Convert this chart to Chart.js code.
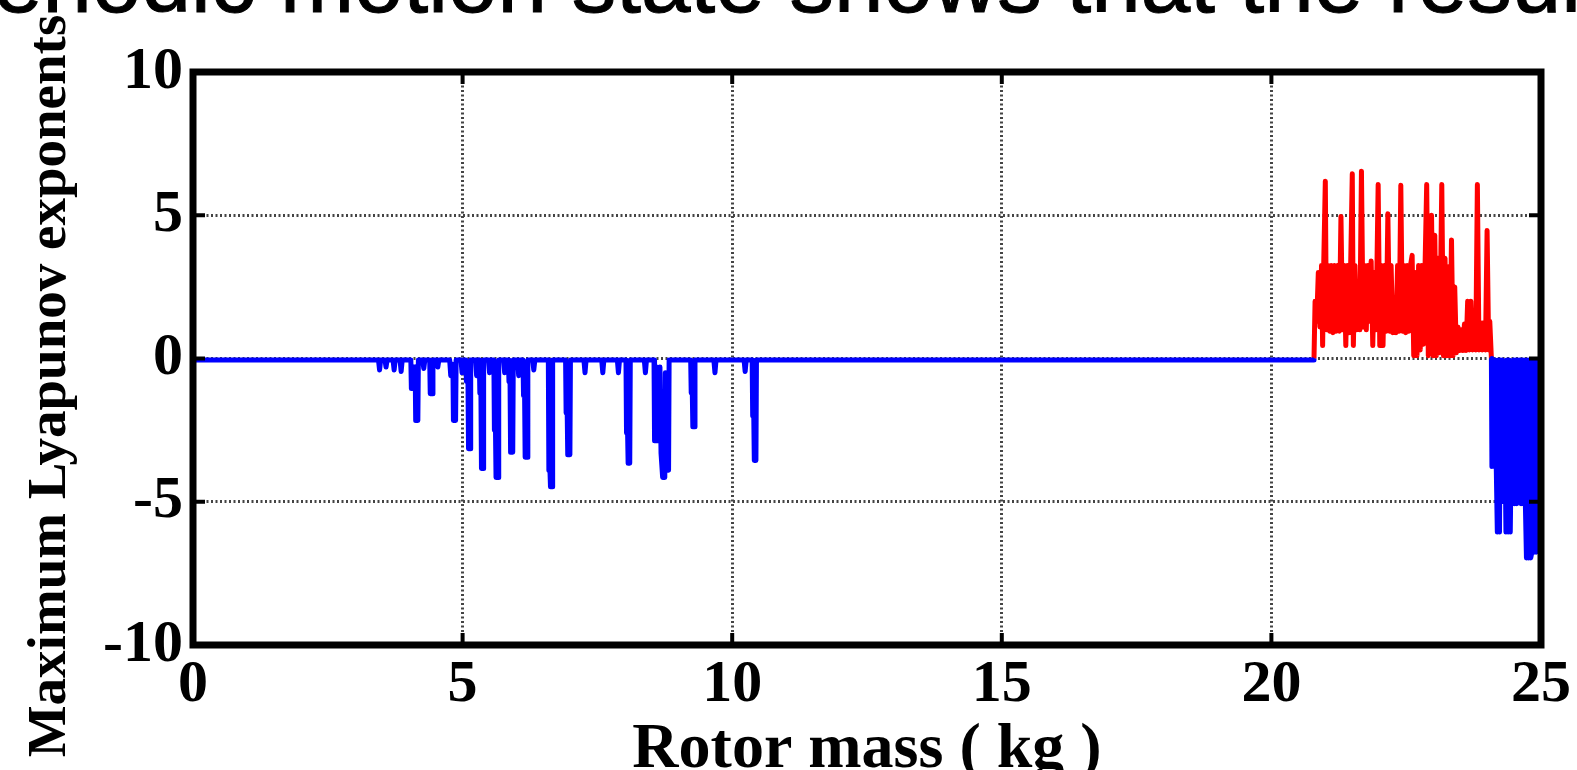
<!DOCTYPE html>
<html>
<head>
<meta charset="utf-8">
<title>Maximum Lyapunov exponents</title>
<script src="https://cdn.jsdelivr.net/npm/chart.js@4.4.0/dist/chart.umd.min.js"></script>
<style>
    html, body {
        margin: 0;
        padding: 0;
        background: #fff;
        overflow: hidden;
    }
    #stage {
        position: relative;
        width: 1577px;
        height: 770px;
    }
    #slideText {
        position: absolute;
        left: -7px;
        top: -63px;
        font-family: 'Liberation Sans', Arial, sans-serif;
        font-size: 89px;
        line-height: 89px;
        white-space: nowrap;
        color: #000;
        -webkit-text-stroke: 1px #000;
    }
    #lyapunovChart {
        position: absolute;
        left: 0;
        top: 0;
    }
</style>
</head>
<body>
<div id="stage">
    <canvas id="lyapunovChart" width="1577" height="770"></canvas>
    <div id="slideText">eriodic motion state shows that the resul</div>
</div>
<script>
// axis ticks
const massTicks = [0, 5, 10, 15, 20, 25];
const lyapTicks = [-10, -5, 0, 5, 10];

// blue branch, 0 .. 20.8 kg
const stableMass = [
    0.00, 3.44, 3.46, 3.48, 3.56, 3.58, 3.60, 3.71, 3.73, 3.75,
    3.84, 3.86, 3.88, 4.04, 4.05, 4.08, 4.09, 4.12, 4.13, 4.17,
    4.18, 4.26, 4.28, 4.30, 4.39, 4.40, 4.44, 4.45, 4.52, 4.54,
    4.56, 4.76, 4.78, 4.80, 4.82, 4.83, 4.87, 4.88, 4.97, 4.99,
    5.01, 5.06, 5.07, 5.10, 5.11, 5.14, 5.15, 5.24, 5.26, 5.28,
    5.31, 5.32, 5.34, 5.35, 5.38, 5.39, 5.48, 5.50, 5.52, 5.58,
    5.59, 5.61, 5.62, 5.66, 5.67, 5.76, 5.78, 5.80, 5.85, 5.86,
    5.88, 5.89, 5.93, 5.94, 6.02, 6.04, 6.06, 6.12, 6.13, 6.15,
    6.16, 6.20, 6.21, 6.30, 6.32, 6.34, 6.59, 6.60, 6.62, 6.63,
    6.66, 6.67, 6.91, 6.92, 6.94, 6.95, 6.99, 7.00, 7.25, 7.27,
    7.29, 7.58, 7.60, 7.62, 7.87, 7.89, 7.91, 8.03, 8.04, 8.06,
    8.07, 8.10, 8.11, 8.37, 8.39, 8.41, 8.55, 8.56, 8.59, 8.60,
    8.62, 8.65, 8.66, 8.68, 8.71, 8.75, 8.76, 8.78, 8.82, 8.83,
    9.23, 9.24, 9.26, 9.27, 9.30, 9.31, 9.66, 9.68, 9.70, 10.22,
    10.24, 10.26, 10.37, 10.38, 10.40, 10.41, 10.44, 10.45, 20.78, 20.79
];
const stableLyap = [
    -0.05, -0.05, -0.40, -0.05, -0.05, -0.30, -0.05, -0.05, -0.40, -0.05,
    -0.05, -0.45, -0.05, -0.05, -1.05, -1.05, -0.30, -0.30, -2.16, -2.16,
    -0.05, -0.05, -0.35, -0.05, -0.05, -1.23, -1.23, -0.05, -0.05, -0.30,
    -0.05, -0.05, -0.60, -0.20, -0.20, -2.16, -2.16, -0.05, -0.05, -0.50,
    -0.05, -0.05, -0.80, -0.80, -3.15, -3.15, -0.05, -0.05, -0.60, -0.05,
    -0.05, -1.20, -1.20, -3.84, -3.84, -0.05, -0.05, -0.50, -0.05, -0.05,
    -2.50, -2.50, -4.15, -4.15, -0.05, -0.05, -0.50, -0.05, -0.05, -0.80,
    -0.80, -3.27, -3.27, -0.05, -0.05, -0.60, -0.05, -0.05, -1.30, -1.30,
    -3.45, -3.45, -0.05, -0.05, -0.40, -0.05, -0.05, -3.90, -3.90, -4.48,
    -4.48, -0.05, -0.05, -1.90, -1.90, -3.36, -3.36, -0.05, -0.05, -0.50,
    -0.05, -0.05, -0.50, -0.05, -0.05, -0.50, -0.05, -0.05, -2.60, -2.60,
    -3.66, -3.66, -0.05, -0.05, -0.50, -0.05, -0.05, -2.87, -2.87, -0.30,
    -2.87, -2.87, -0.30, -3.30, -4.15, -4.15, -0.50, -3.90, -3.90, -0.05,
    -0.05, -1.20, -1.20, -2.38, -2.38, -0.05, -0.05, -0.50, -0.05, -0.05,
    -0.45, -0.05, -0.05, -2.00, -2.00, -3.56, -3.56, -0.05, -0.05, 0.00
];

// red branch (positive exponents), 20.8 .. 24.1 kg
const chaosMass = [
    20.79, 20.81, 20.84, 20.87, 20.90, 20.93, 20.95, 20.97, 21.00, 21.02,
    21.05, 21.08, 21.11, 21.14, 21.17, 21.20, 21.23, 21.26, 21.29, 21.32,
    21.35, 21.38, 21.41, 21.44, 21.47, 21.50, 21.52, 21.55, 21.58, 21.61,
    21.64, 21.67, 21.70, 21.73, 21.76, 21.79, 21.82, 21.85, 21.88, 21.91,
    21.94, 21.98, 22.01, 22.04, 22.07, 22.10, 22.13, 22.16, 22.19, 22.22,
    22.25, 22.28, 22.31, 22.34, 22.37, 22.40, 22.43, 22.46, 22.49, 22.52,
    22.55, 22.58, 22.61, 22.64, 22.67, 22.70, 22.73, 22.76, 22.79, 22.82,
    22.85, 22.88, 22.91, 22.94, 22.97, 23.00, 23.03, 23.06, 23.09, 23.12,
    23.16, 23.19, 23.22, 23.25, 23.28, 23.31, 23.34, 23.37, 23.40, 23.43,
    23.46, 23.49, 23.52, 23.55, 23.58, 23.61, 23.64, 23.67, 23.70, 23.73,
    23.76, 23.79, 23.82, 23.85, 23.88, 23.91, 23.94, 23.97, 24.00, 24.03,
    24.05, 24.08
];
const chaosLyap = [
    0.00, 2.00, 1.30, 3.00, 1.10, 3.25, 0.45, 3.25, 6.19, 1.00,
    3.25, 0.95, 3.25, 0.90, 3.25, 0.95, 3.25, 0.95, 4.96, 1.00,
    3.25, 0.45, 3.25, 0.90, 3.25, 6.45, 0.45, 3.25, 1.00, 2.10,
    1.00, 6.54, 1.10, 3.25, 1.00, 3.25, 1.30, 3.40, 0.45, 3.00,
    1.00, 6.07, 0.45, 3.25, 0.45, 3.25, 0.95, 5.05, 0.95, 3.25,
    0.90, 2.10, 0.90, 3.25, 0.95, 6.05, 0.95, 3.25, 0.90, 3.25,
    0.95, 3.25, 3.60, 0.10, 3.00, 0.10, 3.25, 0.30, 3.25, 0.50,
    3.25, 6.07, 0.10, 3.25, 5.00, 0.10, 4.30, 0.10, 3.50, 0.20,
    6.07, 0.10, 3.50, 0.10, 3.20, 0.10, 4.14, 0.10, 2.50, 0.20,
    1.10, 0.28, 1.00, 0.28, 1.20, 0.28, 2.00, 0.30, 2.00, 0.30,
    1.25, 0.30, 6.07, 0.30, 1.25, 0.30, 1.25, 0.30, 4.47, 0.30,
    1.30, 0.00
];

// blue tail, 24.1 .. 25 kg
const tailMass = [
    24.08, 24.09, 24.11, 24.13, 24.15, 24.17, 24.19, 24.21, 24.23, 24.25,
    24.27, 24.29, 24.31, 24.33, 24.35, 24.37, 24.39, 24.41, 24.43, 24.45,
    24.47, 24.49, 24.51, 24.53, 24.55, 24.57, 24.59, 24.61, 24.63, 24.65,
    24.67, 24.69, 24.71, 24.73, 24.75, 24.77, 24.79, 24.81, 24.83, 24.85,
    24.87, 24.89, 24.91, 24.93, 24.95, 24.97, 25.00
];
const tailLyap = [
    0.00, -3.77, -0.05, -3.77, -0.05, -3.77, -6.06, -0.05, -6.06, -0.05,
    -5.00, -0.05, -5.00, -2.60, -6.06, -0.05, -6.06, -0.05, -6.06, -3.10,
    -5.07, -0.05, -5.07, -0.05, -5.07, -0.05, -4.03, -0.05, -5.07, -0.05,
    -5.07, -0.05, -5.07, -6.96, -0.05, -6.96, -0.05, -6.96, -6.76, -0.05,
    -6.76, -0.05, -6.76, -6.12, -0.05, -6.12, -0.05
];

const SERIF = "'Liberation Serif', 'Times New Roman', serif";

// MATLAB style box with inward tick marks
const axesBox = {
    id: 'axesBox',
    afterDatasetsDraw(chart) {
        const { ctx, chartArea: a, scales: { x, y } } = chart;
        const len = 12;
        ctx.save();
        ctx.strokeStyle = '#000';
        ctx.lineWidth = 4;
        ctx.beginPath();
        massTicks.forEach(v => {
            const px = x.getPixelForValue(v);
            ctx.moveTo(px, a.bottom);
            ctx.lineTo(px, a.bottom - len);
            ctx.moveTo(px, a.top);
            ctx.lineTo(px, a.top + len);
        });
        lyapTicks.forEach(v => {
            const py = y.getPixelForValue(v);
            ctx.moveTo(a.left, py);
            ctx.lineTo(a.left + len, py);
            ctx.moveTo(a.right, py);
            ctx.lineTo(a.right - len, py);
        });
        ctx.stroke();
        ctx.lineWidth = 7;
        ctx.strokeRect(a.left, a.top, a.right - a.left, a.bottom - a.top);
        ctx.restore();
    }
};

class LyapunovChartView {

    #canvas;
    #chart;

    constructor(canvas) {
        this.#canvas = canvas;
    }

    displayChart() {
        if (this.#chart != null) {
            this.#chart.destroy();
        }
        this.#chart = new Chart(
            this.#canvas,
            {
                type: 'line',
                data: this.#getData(),
                options: this.#getOptions(),
                plugins: [axesBox]
            });
    }

    #series(masses, values, color) {
        return {
            data: masses.map((m, i) => ({ x: m, y: values[i] })),
            borderColor: color,
            borderWidth: 5,
            borderJoinStyle: 'round',
            pointRadius: 0,
            tension: 0,
            fill: false
        };
    }

    #getData() {
        return {
            datasets: [
                this.#series(stableMass, stableLyap, '#0000ff'),
                this.#series(tailMass, tailLyap, '#0000ff'),
                this.#series(chaosMass, chaosLyap, '#ff0000')
            ]
        };
    }

    #axisTicks(values) {
        return scale => {
            scale.ticks = values.map(v => ({ value: v }));
        };
    }

    #gridLines() {
        return {
            color: '#444',
            lineWidth: 3,
            drawTicks: false
        };
    }

    #getOptions() {
        return {
            responsive: false,
            animation: false,
            devicePixelRatio: 1,
            layout: {
                padding: { top: 72, right: 36, left: 0, bottom: 0 }
            },
            plugins: {
                legend: { display: false },
                tooltip: { enabled: false }
            },
            scales: {
                x: {
                    type: 'linear',
                    min: 0,
                    max: 25,
                    afterBuildTicks: this.#axisTicks(massTicks),
                    afterFit: scale => { scale.height = 125; },
                    ticks: {
                        color: '#000',
                        padding: 4,
                        maxRotation: 0,
                        font: { family: SERIF, size: 60, weight: 'bold' }
                    },
                    grid: this.#gridLines(),
                    border: { display: false, dash: [2, 2.5] },
                    title: {
                        display: true,
                        text: 'Rotor mass ( kg )',
                        color: '#000',
                        padding: { top: 0, bottom: -19 },
                        font: { family: SERIF, size: 64, weight: 'bold' }
                    }
                },
                y: {
                    type: 'linear',
                    min: -10,
                    max: 10,
                    afterBuildTicks: this.#axisTicks(lyapTicks),
                    afterFit: scale => { scale.width = 193; },
                    ticks: {
                        color: '#000',
                        padding: 10,
                        font: { family: SERIF, size: 60, weight: 'bold' }
                    },
                    grid: this.#gridLines(),
                    border: { display: false, dash: [2, 2.5] },
                    title: {
                        display: true,
                        // trailing spaces push the centred label down, as in the original figure
                        text: 'Maximum Lyapunov exponents    ',
                        color: '#000',
                        padding: { top: 18, bottom: 0 },
                        font: { family: SERIF, size: 55, weight: 'bold' }
                    }
                }
            }
        };
    }
}

new LyapunovChartView(document.getElementById('lyapunovChart')).displayChart();
</script>
</body>
</html>
